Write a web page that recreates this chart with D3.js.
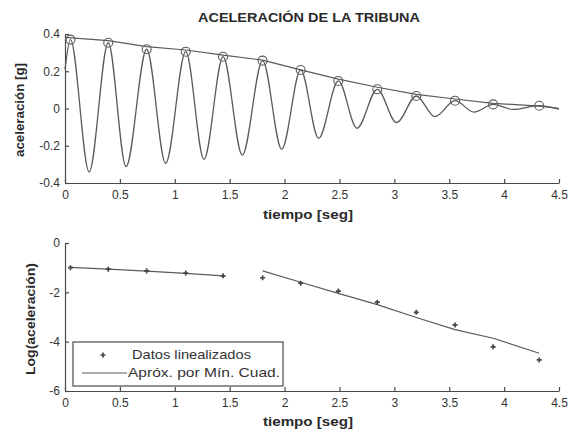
<!DOCTYPE html>
<html>
<head>
<meta charset="utf-8">
<script src="https://cdn.jsdelivr.net/npm/d3@7"></script>
<style>
  html, body { margin: 0; padding: 0; background: #fff; }
  svg { display: block; }
  text { font-family: "Liberation Sans", Arial, sans-serif; fill: #2a2a2a; }
</style>
</head>
<body>
<svg id="chart" width="570" height="433"></svg>
<script>
// ---------- data ----------
const title = "ACELERACIÓN DE LA TRIBUNA";
const xTicks = [0, 0.5, 1, 1.5, 2, 2.5, 3, 3.5, 4, 4.5];
const yTicksTop = [-0.4, -0.2, 0, 0.2, 0.4];
const yTicksBottom = [-6, -4, -2, 0];

// acceleration signal (read extrema)
const sigT = [0, 0.05, 0.22, 0.394, 0.556, 0.744, 0.917, 1.10, 1.266, 1.44, 1.615, 1.80, 1.974, 2.147, 2.31, 2.49, 2.66, 2.845, 3.02, 3.20, 3.37, 3.553, 3.725, 3.90, 4.08, 4.32, 4.5];
const sigV = [0.21, 0.37, -0.34, 0.353, -0.312, 0.318, -0.294, 0.305, -0.273, 0.278, -0.25, 0.257, -0.219, 0.207, -0.16, 0.148, -0.106, 0.103, -0.076, 0.067, -0.044, 0.042, -0.019, 0.022, -0.005, 0.015, -0.004];

// peaks (circles)
const peakT = [0.05, 0.394, 0.744, 1.10, 1.44, 1.80, 2.147, 2.49, 2.845, 3.20, 3.553, 3.90, 4.32];
const peakV = [0.37, 0.353, 0.318, 0.305, 0.278, 0.257, 0.207, 0.148, 0.103, 0.067, 0.042, 0.022, 0.015];

// envelope line
const envT = [0, 0.394, 0.744, 1.10, 1.44, 1.80, 2.147, 2.49, 2.845, 3.20, 3.553, 3.90, 4.32, 4.5];
const envV = [0.382, 0.364, 0.332, 0.314, 0.287, 0.26, 0.207, 0.158, 0.114, 0.076, 0.051, 0.028, 0.013, 0.001];

// log data
const logV = [-1.0, -1.06, -1.13, -1.22, -1.33, -1.41, -1.63, -1.95, -2.40, -2.81, -3.32, -4.21, -4.74];
const fit1T = [0.05, 0.394, 0.744, 1.10, 1.44];
const fit1V = [-0.99, -1.06, -1.14, -1.23, -1.33];
const fit2T = [1.80, 2.147, 2.49, 2.845, 3.20, 3.553, 3.90, 4.32];
const fit2V = [-1.13, -1.59, -2.04, -2.50, -3.02, -3.51, -3.86, -4.47];

const legendLabels = ["Datos linealizados", "Apróx. por Mín. Cuad."];

// ---------- layout ----------
const svg = d3.select("#chart");
const lineColor = "#5a5a5a";
const axisColor = "#4a4a4a";
const L = 65, R = 559;
const fmt = d => String(+d.toFixed(2)); // plain hyphen-minus like the original

const x = d3.scaleLinear().domain([0, 4.5]).range([L, R]);
const yTop = d3.scaleLinear().domain([-0.4, 0.4]).range([183, 34]);
const yBot = d3.scaleLinear().domain([-6, 0]).range([391, 243]);

function drawAxes(yScale, yTicks, x0, y0) {
  const gx = svg.append("g").attr("transform", `translate(0,${y0})`)
    .call(d3.axisBottom(x).tickValues(xTicks).tickFormat(fmt)
      .tickSize(-4).tickSizeOuter(0).tickPadding(7));
  const gy = svg.append("g").attr("transform", `translate(${x0},0)`)
    .call(d3.axisLeft(yScale).tickValues(yTicks).tickFormat(fmt)
      .tickSize(-4).tickSizeOuter(0).tickPadding(5));
  [gx, gy].forEach(g => {
    g.selectAll("path.domain").attr("stroke", axisColor).attr("stroke-width", 1.2);
    g.selectAll(".tick line").attr("stroke", axisColor).attr("stroke-width", 1.2);
    g.selectAll(".tick text").style("font-size", "12px").style("fill", "#333")
      .style("font-family", "'Liberation Sans', Arial, sans-serif");
  });
}

// ---------- top plot ----------
drawAxes(yTop, yTicksTop, L, 183);

const sig = sigT.map((t, i) => [t, sigV[i]]);
svg.append("path").datum(sig)
  .attr("fill", "none").attr("stroke", lineColor).attr("stroke-width", 1.3)
  .attr("d", d3.line().x(d => x(d[0])).y(d => yTop(d[1])).curve(d3.curveMonotoneX));

const env = envT.map((t, i) => [t, envV[i]]);
svg.append("path").datum(env)
  .attr("fill", "none").attr("stroke", lineColor).attr("stroke-width", 1.2)
  .attr("d", d3.line().x(d => x(d[0])).y(d => yTop(d[1])));

svg.append("g").selectAll("circle").data(peakT.map((t, i) => [t, peakV[i]]))
  .join("circle")
  .attr("cx", d => x(d[0])).attr("cy", d => yTop(d[1])).attr("r", 4.5)
  .attr("fill", "none").attr("stroke", lineColor).attr("stroke-width", 1.1);

svg.append("text").attr("x", 309).attr("y", 22).attr("text-anchor", "middle")
  .attr("textLength", 222).attr("lengthAdjust", "spacingAndGlyphs")
  .style("font-size", "13.5px").style("font-weight", "bold").text(title);

svg.append("text").attr("transform", "translate(24,110) rotate(-90)")
  .attr("text-anchor", "middle").attr("textLength", 94).attr("lengthAdjust", "spacingAndGlyphs")
  .style("font-size", "13px").style("font-weight", "bold")
  .text("aceleración [g]");

svg.append("text").attr("x", 308).attr("y", 219).attr("text-anchor", "middle")
  .attr("textLength", 90).attr("lengthAdjust", "spacingAndGlyphs")
  .style("font-size", "13.5px").style("font-weight", "bold").text("tiempo [seg]");

// ---------- bottom plot ----------
drawAxes(yBot, yTicksBottom, L, 391);

const fitLine = d3.line().x(d => x(d[0])).y(d => yBot(d[1]));
[[fit1T, fit1V], [fit2T, fit2V]].forEach(([ts, vs]) => {
  svg.append("path").datum(ts.map((t, i) => [t, vs[i]]))
    .attr("fill", "none").attr("stroke", lineColor).attr("stroke-width", 1.2)
    .attr("d", fitLine);
});

const plus = d3.symbol().type(d3.symbolCross).size(14);
svg.append("g").selectAll("path").data(peakT.map((t, i) => [t, logV[i]]))
  .join("path")
  .attr("transform", d => `translate(${x(d[0])},${yBot(d[1])})`)
  .attr("d", plus).attr("fill", "#444");

svg.append("text").attr("transform", "translate(35,319) rotate(-90)")
  .attr("text-anchor", "middle").attr("textLength", 112).attr("lengthAdjust", "spacingAndGlyphs")
  .style("font-size", "12.5px").style("font-weight", "bold")
  .text("Log(aceleración)");

svg.append("text").attr("x", 308).attr("y", 426).attr("text-anchor", "middle")
  .attr("textLength", 90).attr("lengthAdjust", "spacingAndGlyphs")
  .style("font-size", "13.5px").style("font-weight", "bold").text("tiempo [seg]");

// legend
const lg = svg.append("g");
lg.append("rect").attr("x", 73).attr("y", 342).attr("width", 210).attr("height", 44)
  .attr("fill", "#fff").attr("stroke", axisColor).attr("stroke-width", 1.2);
lg.append("path").attr("transform", "translate(103,355)").attr("d", plus).attr("fill", "#444");
lg.append("line").attr("x1", 82).attr("x2", 127).attr("y1", 373).attr("y2", 373)
  .attr("stroke", lineColor).attr("stroke-width", 1.2);
lg.append("text").attr("x", 132).attr("y", 359).attr("textLength", 119).attr("lengthAdjust", "spacingAndGlyphs")
  .style("font-size", "13px").style("fill", "#333").text(legendLabels[0]);
lg.append("text").attr("x", 128).attr("y", 377).attr("textLength", 152).attr("lengthAdjust", "spacingAndGlyphs")
  .style("font-size", "13px").style("fill", "#333").text(legendLabels[1]);
</script>
</body>
</html>
